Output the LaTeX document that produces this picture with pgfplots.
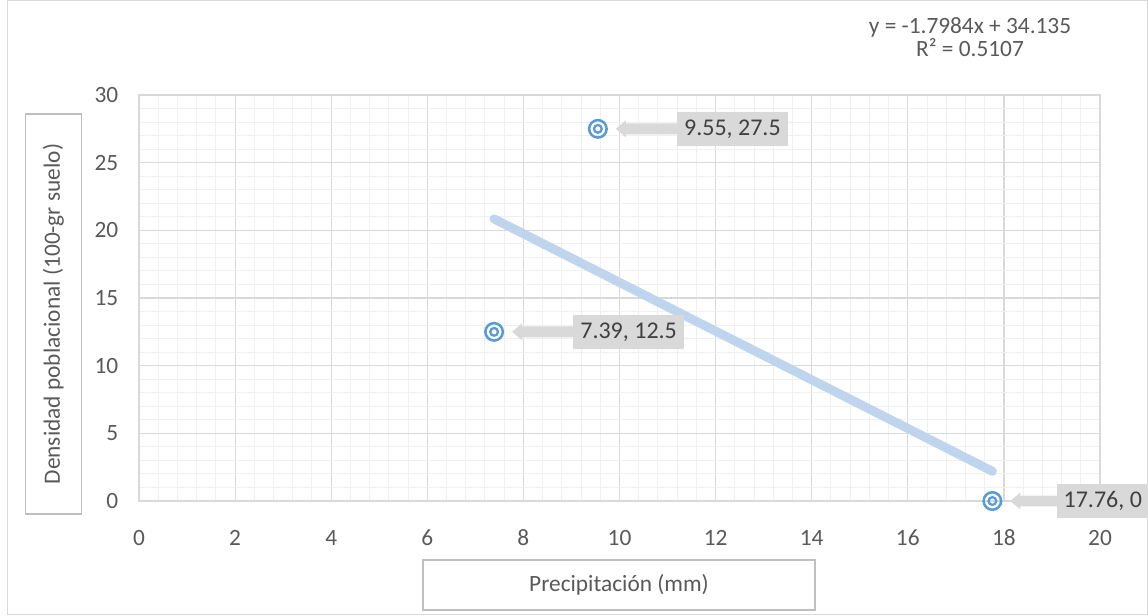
\documentclass[border=0pt]{standalone}
\usepackage{fontspec}
\setmainfont{Carlito}
\usepackage{pgfplots}
\pgfplotsset{compat=1.18}
\definecolor{grmaj}{HTML}{D9D9D9}
\definecolor{grmin}{HTML}{F0F0F0}
\definecolor{txt}{HTML}{595959}
\definecolor{calg}{HTML}{D9D9D9}
\definecolor{calt}{HTML}{404040}
\definecolor{mk}{HTML}{5B9BD5}
\definecolor{trend}{HTML}{BFD5ED}
\definecolor{boxc}{HTML}{BFBFBF}

% #1 x, #2 y, #3 label, #4 box offset
\newcommand{\callout}[4]{%
  \begin{scope}[shift={(axis cs:#1,#2)}]
    \fill[calg] (13.5pt,0) -- (21pt,6.4pt) -- (21pt,4.1pt) -- (#4+0.5pt,4.1pt) -- (#4+0.5pt,-4.1pt) -- (21pt,-4.1pt) -- (21pt,-6.4pt) -- cycle;
    \node[fill=calg, anchor=west, inner xsep=5.25pt, minimum height=26pt, text=calt, font=\fontsize{18}{20}\selectfont] at (#4,0) {#3};
  \end{scope}}

\begin{document}
\begin{tikzpicture}
\useasboundingbox (0,0) rectangle (861pt,-461.25pt);
\draw[grmaj, line width=0.75pt] (5.25pt,-0.375pt) rectangle (860.6pt,-460.9pt);

\begin{axis}[
  at={(104.25pt,-375.75pt)}, anchor=south west,
  scale only axis, width=720.75pt, height=304.5pt,
  xmin=0, xmax=20, ymin=0, ymax=30,
  xtick={0,2,...,20}, ytick={0,5,...,30},
  minor x tick num=4, minor y tick num=4,
  grid=both,
  major grid style={grmaj, line width=0.9pt},
  minor grid style={grmin, line width=0.75pt},
  axis line style={grmaj, line width=0.9pt},
  major tick style={draw=none}, minor tick style={draw=none},
  ticklabel style={font=\fontsize{17.5}{20}\selectfont, text=txt},
  /pgf/number format/assume math mode=true,
  xticklabel style={anchor=center, yshift=-27.75pt},
  yticklabel style={anchor=east, xshift=-12pt},
  clip=false,
]
\addplot[trend, line width=6.75pt, line cap=round] coordinates {(7.39,20.845) (17.76,2.195)};
\addplot[only marks, mark=o, mark size=6.55pt, mark options={draw=mk, line width=1.9pt, fill=white}] coordinates {(9.55,27.5) (7.39,12.5) (17.76,0)};
\addplot[only marks, mark=o, mark size=2.9pt, mark options={draw=mk, line width=1.7pt}] coordinates {(9.55,27.5) (7.39,12.5) (17.76,0)};
\callout{9.55}{27.5}{9.55, 27.5}{59.25pt}
\callout{7.39}{12.5}{7.39, 12.5}{59.25pt}
\callout{17.76}{0}{17.76, 0}{48pt}
\end{axis}

\node[draw=boxc, line width=0.9pt, rotate=90, minimum width=300pt, minimum height=41.5pt, text=txt, font=\fontsize{17.5}{20}\selectfont] at (40.1pt,-235.5pt) {Densidad poblacional (100-gr suelo)};
\node[draw=boxc, line width=0.9pt, minimum width=294pt, minimum height=37.5pt, text=txt, font=\fontsize{17.5}{20}\selectfont] at (464.25pt,-438.75pt) {Precipitación (mm)};
\node[text=txt, font=\fontsize{17.5}{15}\selectfont, align=center] at (727.5pt,-28pt) {y = -1.7984x + 34.135\\R² = 0.5107};
\end{tikzpicture}
\end{document}
